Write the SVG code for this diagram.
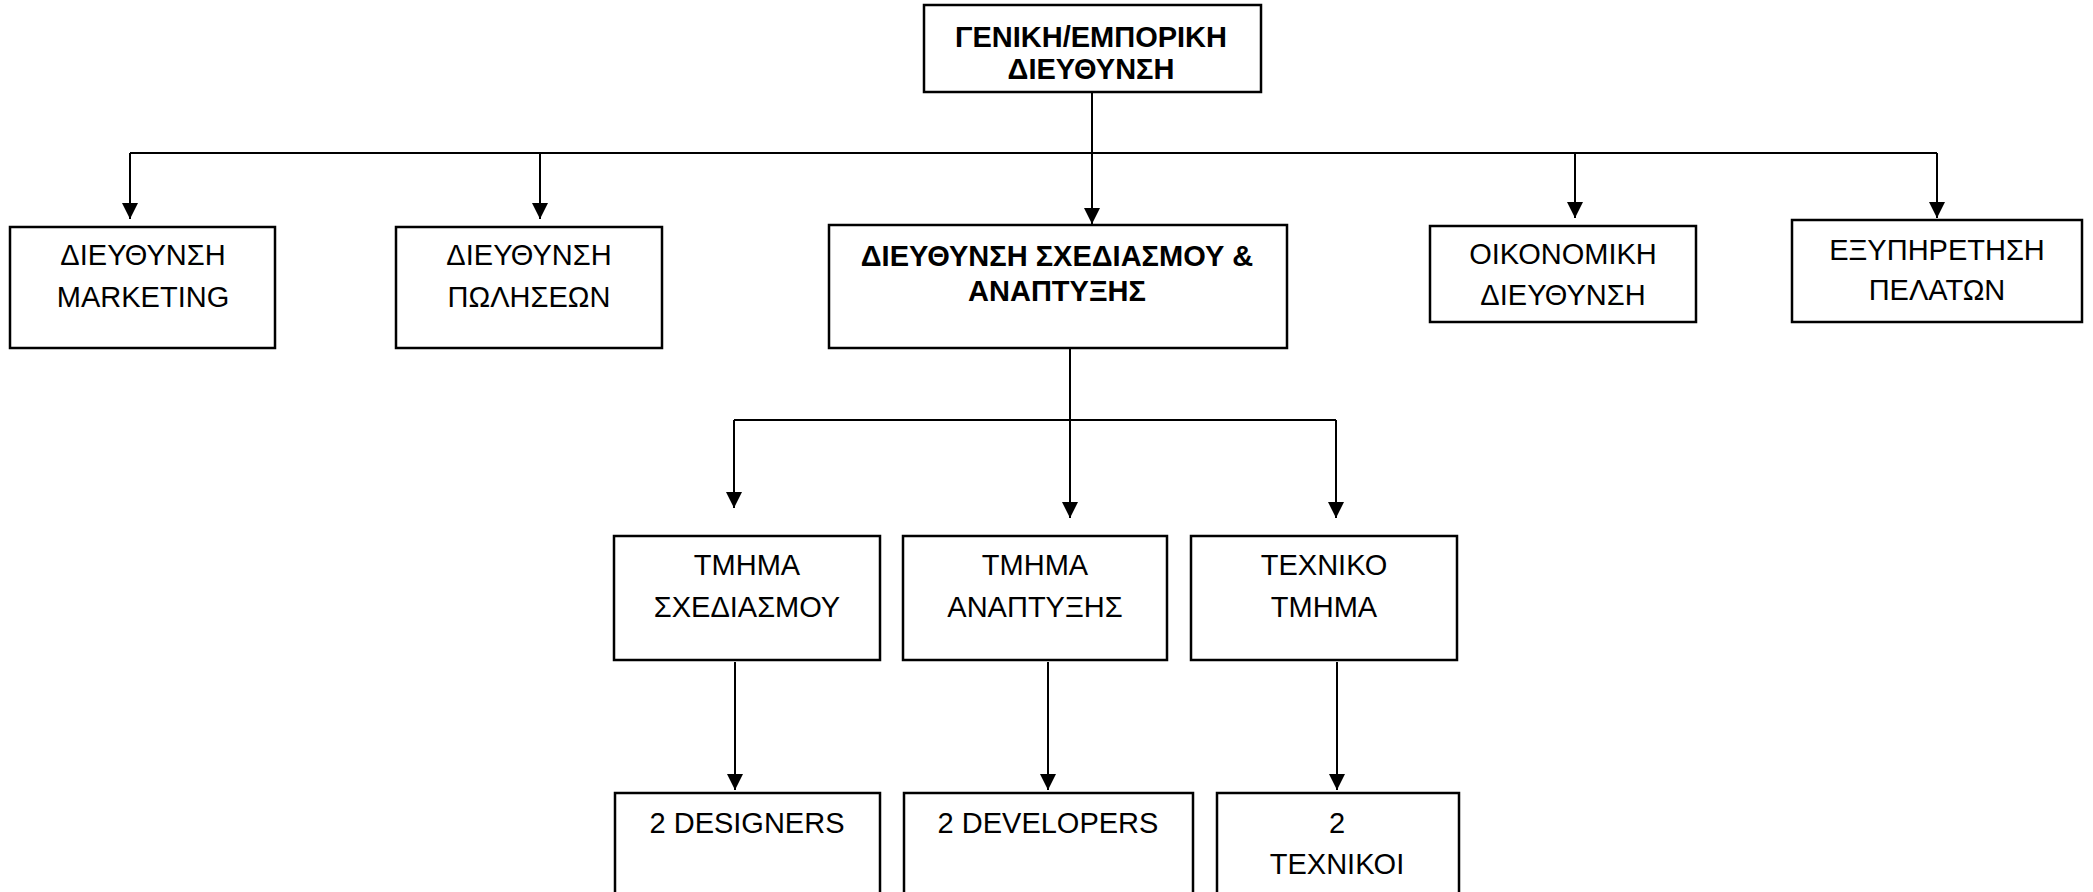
<svg xmlns="http://www.w3.org/2000/svg" width="2093" height="892" viewBox="0 0 2093 892">
<style>
.box{fill:#fff;stroke:#000;stroke-width:2.5}
.t{font-family:"Liberation Sans",Arial,sans-serif;font-size:29px;fill:#000;text-anchor:middle}
.b{font-weight:bold}
.ln{fill:none;stroke:#000;stroke-width:2}
</style>
<defs>
<marker id="arr" markerWidth="16" markerHeight="16" refX="16" refY="8" orient="auto" markerUnits="userSpaceOnUse" viewBox="0 0 16 16">
<path d="M0,0 L16,8 L0,16 Z" fill="#000"/>
</marker>
</defs>
<rect width="2093" height="892" fill="#fff"/>
<g id="connectors">
<path class="ln" d="M1092,92 V153"/>
<path class="ln" d="M130,153 H1937"/>
<path class="ln" d="M130,153 V219" marker-end="url(#arr)"/>
<path class="ln" d="M540,153 V219" marker-end="url(#arr)"/>
<path class="ln" d="M1092,153 V224" marker-end="url(#arr)"/>
<path class="ln" d="M1575,153 V218" marker-end="url(#arr)"/>
<path class="ln" d="M1937,153 V218" marker-end="url(#arr)"/>
<path class="ln" d="M1070,348 V420"/>
<path class="ln" d="M734,420 H1336"/>
<path class="ln" d="M734,420 V508" marker-end="url(#arr)"/>
<path class="ln" d="M1070,420 V518" marker-end="url(#arr)"/>
<path class="ln" d="M1336,420 V518" marker-end="url(#arr)"/>
<path class="ln" d="M735,662 V790" marker-end="url(#arr)"/>
<path class="ln" d="M1048,662 V790" marker-end="url(#arr)"/>
<path class="ln" d="M1337,662 V790" marker-end="url(#arr)"/>
</g>
<g id="n-top">
<rect class="box" x="924" y="5" width="337" height="87"/>
<text class="t b" x="1091" y="47">ΓΕΝΙΚΗ/ΕΜΠΟΡΙΚΗ</text>
<text class="t b" x="1091" y="79">ΔΙΕΥΘΥΝΣΗ</text>
</g>
<g id="n-marketing">
<rect class="box" x="10" y="227" width="265" height="121"/>
<text class="t" x="143" y="265">ΔΙΕΥΘΥΝΣΗ</text>
<text class="t" x="143" y="307">MARKETING</text>
</g>
<g id="n-sales">
<rect class="box" x="396" y="227" width="266" height="121"/>
<text class="t" x="529" y="265">ΔΙΕΥΘΥΝΣΗ</text>
<text class="t" x="529" y="307">ΠΩΛΗΣΕΩΝ</text>
</g>
<g id="n-design-dev">
<rect class="box" x="829" y="225" width="458" height="123"/>
<text class="t b" x="1057" y="266">ΔΙΕΥΘΥΝΣΗ ΣΧΕΔΙΑΣΜΟΥ &amp;</text>
<text class="t b" x="1057" y="301">ΑΝΑΠΤΥΞΗΣ</text>
</g>
<g id="n-finance">
<rect class="box" x="1430" y="226" width="266" height="96"/>
<text class="t" x="1563" y="264">ΟΙΚΟΝΟΜΙΚΗ</text>
<text class="t" x="1563" y="305">ΔΙΕΥΘΥΝΣΗ</text>
</g>
<g id="n-customers">
<rect class="box" x="1792" y="220" width="290" height="102"/>
<text class="t" x="1937" y="260">ΕΞΥΠΗΡΕΤΗΣΗ</text>
<text class="t" x="1937" y="300">ΠΕΛΑΤΩΝ</text>
</g>
<g id="n-design-dept">
<rect class="box" x="614" y="536" width="266" height="124"/>
<text class="t" x="747" y="575">ΤΜΗΜΑ</text>
<text class="t" x="747" y="617">ΣΧΕΔΙΑΣΜΟΥ</text>
</g>
<g id="n-dev-dept">
<rect class="box" x="903" y="536" width="264" height="124"/>
<text class="t" x="1035" y="575">ΤΜΗΜΑ</text>
<text class="t" x="1035" y="617">ΑΝΑΠΤΥΞΗΣ</text>
</g>
<g id="n-tech-dept">
<rect class="box" x="1191" y="536" width="266" height="124"/>
<text class="t" x="1324" y="575">ΤΕΧΝΙΚΟ</text>
<text class="t" x="1324" y="617">ΤΜΗΜΑ</text>
</g>
<g id="n-designers">
<rect class="box" x="615" y="793" width="265" height="110"/>
<text class="t" x="747" y="833">2 DESIGNERS</text>
</g>
<g id="n-developers">
<rect class="box" x="904" y="793" width="289" height="110"/>
<text class="t" x="1048" y="833">2 DEVELOPERS</text>
</g>
<g id="n-technicians">
<rect class="box" x="1217" y="793" width="242" height="110"/>
<text class="t" x="1337" y="833">2</text>
<text class="t" x="1337" y="874">ΤΕΧΝΙΚΟΙ</text>
</g>
</svg>
